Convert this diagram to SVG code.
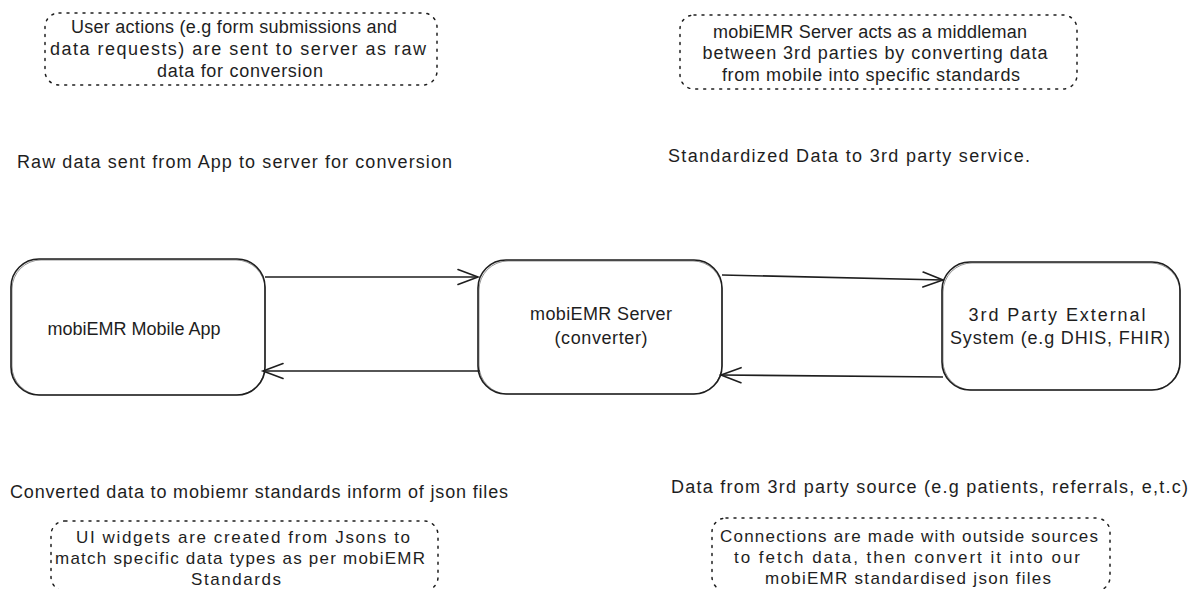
<svg xmlns="http://www.w3.org/2000/svg" width="1195" height="589" viewBox="0 0 1195 589">
<style>
text{font-family:"Liberation Sans","Noto Sans",sans-serif;font-size:18px;fill:#1e1e1e}
.c{text-anchor:middle}
.s{font-size:17px}
.node{fill:none;stroke:#1e1e1e;stroke-width:1.6}
.node2{fill:none;stroke:#1e1e1e;stroke-width:0.8;opacity:0.6}
.note{fill:none;stroke:#1e1e1e;stroke-width:1.5;stroke-dasharray:2 6;stroke-linecap:round}
.edge{fill:none;stroke:#1e1e1e;stroke-width:1.6;marker-end:url(#arr)}
</style>
<defs>
<marker id="arr" markerUnits="userSpaceOnUse" markerWidth="24" markerHeight="20" refX="21" refY="10" orient="auto">
<path d="M1,2.5 L21,10 L1,17.5" fill="none" stroke="#1e1e1e" stroke-width="1.6" stroke-linecap="round"/>
</marker>
</defs>
<rect width="1195" height="589" fill="#ffffff"/>

<g id="note-user-actions">
<rect class="note" x="45" y="13" width="392" height="72" rx="14"/>
<text class="c" x="234" y="33" textLength="326" lengthAdjust="spacing">User actions (e.g form submissions and</text>
<text class="c" x="238" y="55" textLength="376" lengthAdjust="spacing">data requests) are sent to server as raw</text>
<text class="c" x="240" y="77" textLength="166" lengthAdjust="spacing">data for conversion</text>
</g>

<g id="note-server-middleman">
<rect class="note" x="680" y="15" width="397" height="74" rx="14"/>
<text class="c" x="870" y="38" textLength="314" lengthAdjust="spacing">mobiEMR Server acts as a middleman</text>
<text class="c" x="875" y="59" textLength="345" lengthAdjust="spacing">between 3rd parties by converting data</text>
<text class="c" x="871" y="81" textLength="298" lengthAdjust="spacing">from mobile into specific standards</text>
</g>

<g id="label-raw-data">
<text x="17" y="168" textLength="435" lengthAdjust="spacing">Raw data sent from App to server for conversion</text>
</g>
<g id="label-standardized">
<text x="668" y="162" textLength="362" lengthAdjust="spacing">Standardized Data to 3rd party service.</text>
</g>

<g id="node-mobile-app">
<rect class="node" x="11" y="259" width="254" height="136" rx="28"/>
<rect class="node2" x="12" y="260" width="253" height="135" rx="29"/>
<text class="c" x="134" y="335" textLength="173" lengthAdjust="spacing">mobiEMR Mobile App</text>
</g>

<g id="node-server">
<rect class="node" x="478" y="260" width="244" height="134" rx="28"/>
<rect class="node2" x="479" y="261" width="243" height="133" rx="29"/>
<text class="c" x="601" y="320" textLength="142" lengthAdjust="spacing">mobiEMR Server</text>
<text class="c" x="601" y="344" textLength="93" lengthAdjust="spacing">(converter)</text>
</g>

<g id="node-third-party">
<rect class="node" x="942" y="262" width="238" height="128" rx="28"/>
<rect class="node2" x="943" y="263" width="237" height="127" rx="29"/>
<text class="c" x="1057" y="321" textLength="177" lengthAdjust="spacing">3rd Party External</text>
<text class="c" x="1060" y="344" textLength="220" lengthAdjust="spacing">System (e.g DHIS, FHIR)</text>
</g>

<g id="connectors">
<path class="edge" d="M265,277 L478,277"/>
<path class="edge" d="M480,371 L263,371"/>
<path class="edge" d="M722,275 L943,280"/>
<path class="edge" d="M943,377 L721,375"/>
</g>

<g id="label-converted">
<text x="10" y="498" textLength="498" lengthAdjust="spacing">Converted data to mobiemr standards inform of json files</text>
</g>
<g id="label-third-party-source">
<text x="671" y="493" textLength="517" lengthAdjust="spacing">Data from 3rd party source (e.g patients, referrals, e,t.c)</text>
</g>

<g id="note-ui-widgets">
<rect class="note" x="51" y="521" width="387" height="70" rx="14"/>
<text class="c s" x="243" y="543" textLength="334" lengthAdjust="spacing">UI widgets are created from Jsons to</text>
<text class="c s" x="240" y="564" textLength="370" lengthAdjust="spacing">match specific data types as per mobiEMR</text>
<text class="c s" x="236" y="585" textLength="90" lengthAdjust="spacing">Standards</text>
</g>

<g id="note-connections">
<rect class="note" x="712" y="518" width="398" height="73" rx="14"/>
<text class="c s" x="909" y="542" textLength="378" lengthAdjust="spacing">Connections are made with outside sources</text>
<text class="c s" x="907" y="563" textLength="346" lengthAdjust="spacing">to fetch data, then convert it into our</text>
<text class="c s" x="908" y="584" textLength="286" lengthAdjust="spacing">mobiEMR standardised json files</text>
</g>
</svg>
